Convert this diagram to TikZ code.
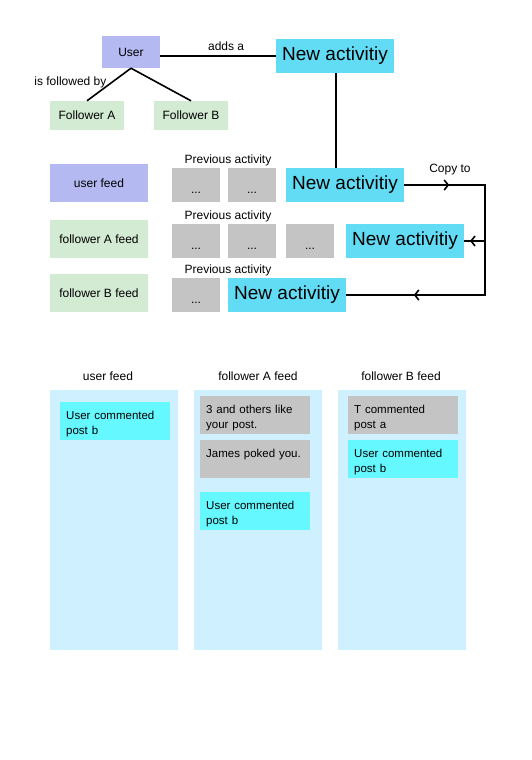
\documentclass[tikz,border=0pt]{standalone}
\usepackage{fontspec}
\setmainfont{Liberation Sans}
\usetikzlibrary{positioning,arrows.meta,decorations.markings}
\definecolor{userblue}{HTML}{B4B9F2}
\definecolor{followgreen}{HTML}{D3EAD3}
\definecolor{newcyan}{HTML}{62DCF4}
\definecolor{prevgray}{HTML}{C4C4C4}
\definecolor{colblue}{HTML}{CFF0FE}
\definecolor{cardcyan}{HTML}{66F8FF}
\tikzset{
    >={Straight Barb[length=4pt,width=10pt,line width=1.6pt]},
    box/.style={
        rectangle,
        inner sep=0pt,
        text centered,
        font=\fontsize{12}{14}\selectfont
    },
    userbox/.style={box, fill=userblue},
    followbox/.style={box, fill=followgreen},
    newbox/.style={
        box,
        fill=newcyan,
        minimum width=118pt,
        minimum height=34pt,
        font=\fontsize{19}{22}\selectfont
    },
    prevbox/.style={
        box,
        fill=prevgray,
        minimum width=48pt,
        minimum height=34pt,
        text height=16pt,
        text depth=0pt
    },
    line/.style={draw, line width=1.6pt},
    plain/.style={inner sep=0pt, font=\fontsize{12}{14}\selectfont}
}

\begin{document}
\begin{tikzpicture}[
            x=1pt, y=-1pt,
            column/.style={
                rectangle,
                anchor=north west,
                fill=colblue,
                minimum width=128pt,
                minimum height=260pt
            },
            card/.style={
                rectangle,
                anchor=north west,
                inner xsep=6pt,
                inner ysep=0pt,
                text width=98pt,
                text height=17pt,
                text depth=21pt,
                align=left,
                font=\fontsize{11.5}{15}\selectfont
            }]
    \useasboundingbox (0,0) rectangle (532,760);

    \node[userbox, minimum width=58pt, minimum height=32pt] (U) at (131,52) {User};
    \node[followbox, minimum width=74pt, minimum height=29pt] (FA) at (87,115.5) {Follower A};
    \node[followbox, minimum width=74pt, minimum height=29pt] (FB) at (191,115.5) {Follower B};
    \node[newbox] (NT) at (335,56) {New activitiy};

    \draw[line] (U.east |- NT.west) -- node[plain, above=5pt, pos=0.57] (adds) {adds a} (NT.west);
    \draw[line] (U.south) -- node[plain, left=4pt, pos=0.45] (followed) {is followed by} (FA.north);
    \draw[line] (U.south) -- (FB.north);

    \node[userbox, minimum width=98pt, minimum height=38pt] (UF) at (99,183) {user feed};
    \node[followbox, minimum width=98pt, minimum height=38pt] (AF) at (99,239) {follower A feed};
    \node[followbox, minimum width=98pt, minimum height=38pt] (BF) at (99,293) {follower B feed};

    \node[prevbox] (P11) at (196,185) {...};
    \node[prevbox] (P12) at (252,185) {...};
    \node[newbox] (NA1) at (345,185) {New activitiy};
    \node[plain] (L1) at (228,160) {Previous activity};

    \node[prevbox] (P21) at (196,241) {...};
    \node[prevbox] (P22) at (252,241) {...};
    \node[prevbox] (P23) at (310,241) {...};
    \node[newbox] (NA2) at (405,241) {New activitiy};
    \node[plain] (L2) at (228,216) {Previous activity};

    \node[prevbox] (P31) at (196,295) {...};
    \node[newbox] (NA3) at (287,295) {New activitiy};
    \node[plain] (L3) at (228,270) {Previous activity};

    \draw[line] (NT.south -| 336,0) -- (336,168);

    \coordinate (c1) at (485,185);
    \coordinate (c2) at (485,241);
    \coordinate (c3) at (485,295);
    \node[plain] (copy) at (450,170) {Copy to};

    \draw[line, postaction={decorate},
          decoration={markings,
                      mark=at position 45pt with {\arrow{>}},
                      mark=at position 262pt with {\arrow{>}}}]
        (NA1.east) -- (c1) -- (c3) -- (NA3.east);
    \draw[line, postaction={decorate},
          decoration={markings, mark=at position 15pt with {\arrow{>}}}]
        (c2) -- (NA2.east);

    \node[plain] (H1) at (108,376) {user feed};
    \node[plain] (H2) at (258,376) {follower A feed};
    \node[plain] (H3) at (401,376) {follower B feed};

    \node[column] (C1) at (50,390) {};
    \node[column] (C2) at (194,390) {};
    \node[column] (C3) at (338,390) {};

    \node[card, fill=cardcyan] (K11) at (60,402) {User commented\\post b};

    \node[card, fill=prevgray] (K21) at (200,396) {3 and others like\\your post.};
    \node[card, fill=prevgray] (K22) at (200,440) {James poked you.};
    \node[card, fill=cardcyan] (K23) at (200,492) {User commented\\post b};

    \node[card, fill=prevgray] (K31) at (348,396) {T commented\\post a};
    \node[card, fill=cardcyan] (K32) at (348,440) {User commented\\post b};
\end{tikzpicture}
\end{document}
